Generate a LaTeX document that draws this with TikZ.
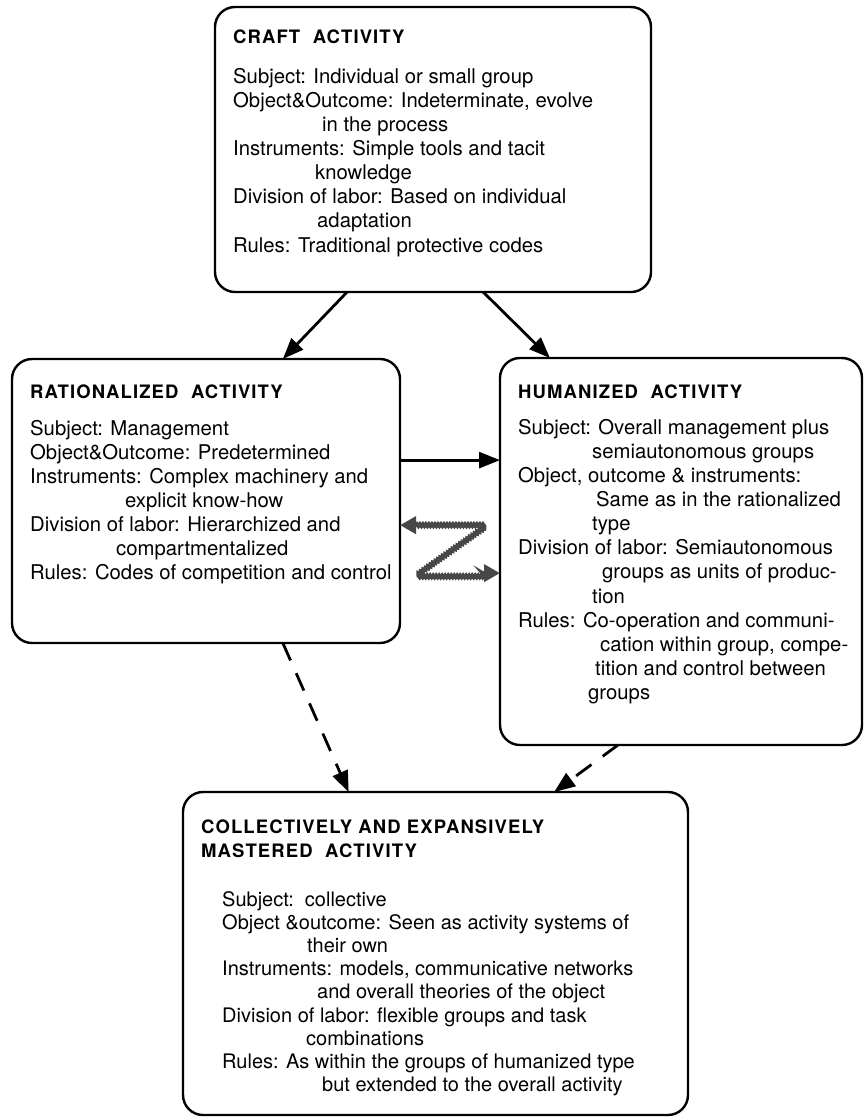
\documentclass[tikz,border=0pt]{standalone}
\usepackage{fontspec}
\setmainfont{TeX Gyre Heros}
\usetikzlibrary{arrows.meta,calc,decorations.pathmorphing}
\newcommand\bodyfnt{\fontsize{20.3}{24.1}\selectfont}
\newcommand\bodyfntb{\fontsize{20}{23.2}\selectfont}
\newcommand\ttlfnt{\fontsize{18.5}{24}\selectfont\bfseries\addfontfeatures{LetterSpace=6}}
\tikzset{
  box/.style={draw, line width=2.4pt, rounded corners=20pt, inner sep=0pt, outer sep=0pt},
  ttl/.style={anchor=north west, inner sep=0pt, align=left, font=\ttlfnt},
  bodytxt/.style={anchor=north west, inner sep=0pt, align=left, font=\bodyfnt},
  bodytxtb/.style={anchor=north west, inner sep=0pt, align=left, font=\bodyfntb},
  arr/.style={line width=2.8pt, -{Triangle[length=21pt,width=16pt]}},
  dsh/.style={arr, dash pattern=on 19pt off 14pt},
  zig/.style={draw=black!72, line width=3.8pt,
    {Triangle[length=16pt,width=17pt,fill=black!72]}-{Triangle[length=16pt,width=17pt,fill=black!72]},
    decorate, decoration={snake, amplitude=1pt, segment length=3pt, pre length=16pt, post length=16pt}}
}
\begin{document}
\begin{tikzpicture}[x=1pt,y=-1pt]
\useasboundingbox (0,0) rectangle (863,1117);

% boxes
\node[box, minimum width=436pt, minimum height=285pt] (craft) at (433,149.5) {};
\node[box, minimum width=388pt, minimum height=284pt] (rat) at (206,501) {};
\node[box, minimum width=362pt, minimum height=387pt] (hum) at (681,551.5) {};
\node[box, minimum width=505pt, minimum height=323pt] (coll) at (435.5,953.5) {};

% craft text
\node[ttl] (craftT) at (233,30) {CRAFT\ \ ACTIVITY};
\node[bodytxt] (craftB) at (233,68) {Subject: Individual or small group\\
Object\&Outcome: Indeterminate, evolve\\
\hspace*{89pt}in the process\\
Instruments: Simple tools and tacit\\
\hspace*{82pt}knowledge\\
Division of labor: Based on individual\\
\hspace*{84pt}adaptation\\
Rules: Traditional protective codes};

% rationalized text
\node[ttl] (ratT) at (30,385) {RATIONALIZED\ \ ACTIVITY};
\node[bodytxt] (ratB) at (30,420) {Subject: Management\\
Object\&Outcome: Predetermined\\
Instruments: Complex machinery and\\
\hspace*{95pt}explicit know-how\\
Division of labor: Hierarchized and\\
\hspace*{86pt}compartmentalized\\
Rules: Codes of competition and control};

% humanized text
\node[ttl] (humT) at (518,385) {HUMANIZED\ \ ACTIVITY};
\node[bodytxt] (humB) at (518,419) {Subject: Overall management plus\\
\hspace*{74pt}semiautonomous groups\\
Object, outcome \& instruments:\\
\hspace*{78pt}Same as in the rationalized\\
\hspace*{74pt}type\\
Division of labor: Semiautonomous\\
\hspace*{84pt}groups as units of produc-\\
\hspace*{74pt}tion\\
Rules: Co-operation and communi-\\
\hspace*{82pt}cation within group, compe-\\
\hspace*{77pt}tition and control between\\
\hspace*{70pt}groups};

% collective text
\node[ttl] (collT) at (201,820) {COLLECTIVELY AND EXPANSIVELY\\MASTERED\ \ ACTIVITY};
\node[bodytxtb] (collB) at (222,891) {Subject:\ \ collective\\
Object \&outcome: Seen as activity systems of\\
\hspace*{85pt}their own\\
Instruments: models, communicative networks\\
\hspace*{95pt}and overall theories of the object\\
Division of labor: flexible groups and task\\
\hspace*{84pt}combinations\\
Rules: As within the groups of humanized type\\
\hspace*{100pt}but extended to the overall activity};

% connectors
\draw[arr] ($(craft.south west)!0.303!(craft.south east)$) -- ($(rat.north west)!0.698!(rat.north east)$);
\draw[arr] ($(craft.south west)!0.615!(craft.south east)$) -- ($(hum.north west)!0.138!(hum.north east)$);
\coordinate (h1) at ($(rat.north east)!0.356!(rat.south east)$);
\draw[arr] (h1) -- (h1 -| hum.west);
\coordinate (zl) at ($(rat.north east)!0.585!(rat.south east)$);
\coordinate (zr) at ($(rat.north east)!0.754!(rat.south east)$);
\draw[zig] (zl) -- ++(83,0) -- ($(zr)+(15,0)$) -- (zr -| hum.west);
\draw[dsh] ($(rat.south west)!0.698!(rat.south east)$) -- ($(coll.north west)!0.328!(coll.north east)$);
\draw[dsh] ($(hum.south west)!0.326!(hum.south east)$) -- ($(coll.north west)!0.735!(coll.north east)$);
\end{tikzpicture}
\end{document}
